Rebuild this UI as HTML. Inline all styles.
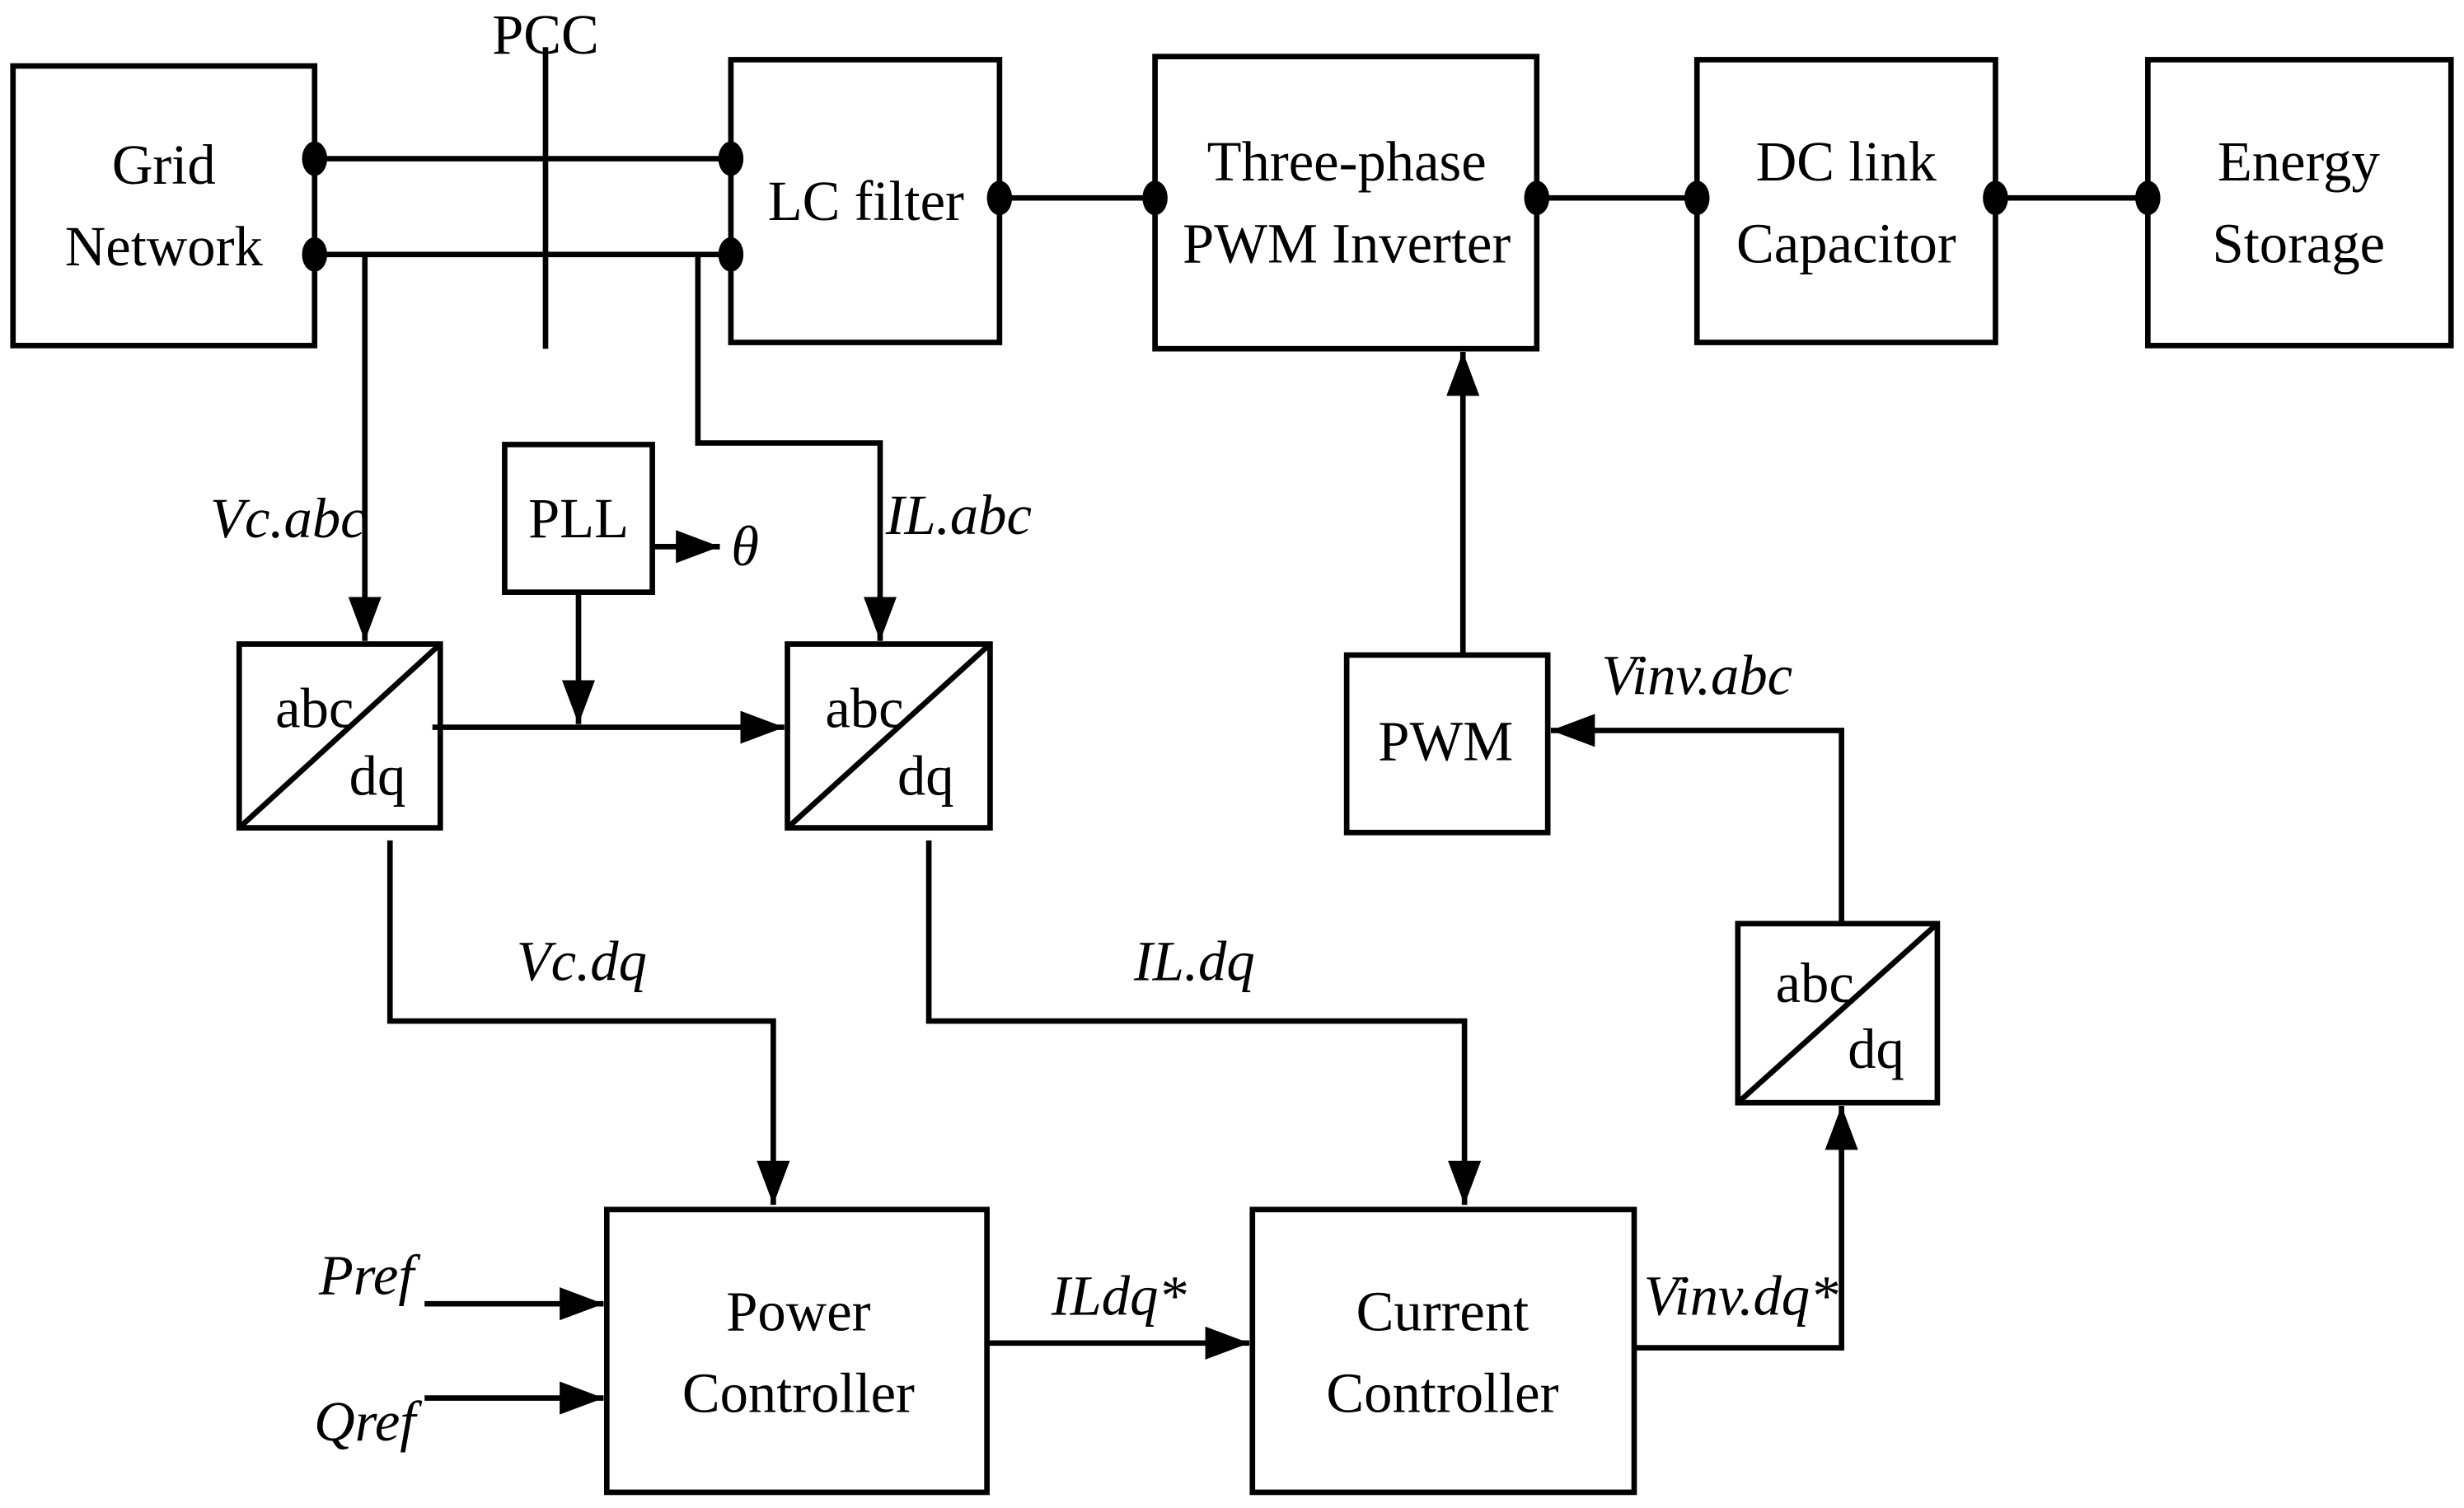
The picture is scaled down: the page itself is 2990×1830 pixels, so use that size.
<!DOCTYPE html>
<html><head><meta charset="utf-8"><style>
html,body{margin:0;padding:0;background:#fff;}
svg{display:block;}
text{font-family:"Liberation Serif",serif;font-size:36px;fill:#000;}
.i{font-style:italic;}
</style></head><body>
<svg width="2990" height="1830" viewBox="0 0 1568 960" xmlns="http://www.w3.org/2000/svg">
<defs>
<marker id="a" markerWidth="8" markerHeight="6" refX="8" refY="3" orient="auto" markerUnits="strokeWidth">
<path d="M0,0 L8,3 L0,6 Z" fill="#000"/></marker>
</defs>
<g fill="none" stroke="#000" stroke-width="3.5">
<rect x="8" y="42" width="192" height="178"/>
<rect x="465" y="38" width="171" height="180"/>
<rect x="735" y="36" width="243" height="186"/>
<rect x="1080" y="38" width="190" height="180"/>
<rect x="1367" y="38" width="193" height="182"/>
<rect x="321" y="283" width="94" height="94"/>
<rect x="152" y="410" width="128" height="117"/>
<line x1="152" y1="527" x2="280" y2="410"/>
<rect x="501" y="410" width="129" height="117"/>
<line x1="501" y1="527" x2="630" y2="410"/>
<rect x="1106" y="588" width="127" height="114"/>
<line x1="1106" y1="702" x2="1233" y2="588"/>
<rect x="857" y="417" width="128" height="113"/>
<rect x="386" y="770" width="242" height="180"/>
<rect x="797" y="770" width="243" height="180"/>
<line x1="200" y1="101" x2="465" y2="101"/>
<line x1="200" y1="162" x2="465" y2="162"/>
<line x1="347" y1="30" x2="347" y2="222"/>
<line x1="636" y1="126" x2="735" y2="126"/>
<line x1="978" y1="126" x2="1080" y2="126"/>
<line x1="1270" y1="126" x2="1367" y2="126"/>
<line x1="232" y1="162" x2="232" y2="408" marker-end="url(#a)"/>
<polyline points="444,162 444,282 560,282 560,408" marker-end="url(#a)"/>
<line x1="415" y1="348" x2="458" y2="348" marker-end="url(#a)"/>
<line x1="368" y1="377" x2="368" y2="461" marker-end="url(#a)"/>
<line x1="275" y1="463" x2="499" y2="463" marker-end="url(#a)"/>
<polyline points="248,535 248,650 492,650 492,767" marker-end="url(#a)"/>
<polyline points="591,535 591,650 932,650 932,767" marker-end="url(#a)"/>
<line x1="270" y1="830" x2="384" y2="830" marker-end="url(#a)"/>
<line x1="270" y1="890" x2="384" y2="890" marker-end="url(#a)"/>
<line x1="628" y1="855" x2="795" y2="855" marker-end="url(#a)"/>
<polyline points="1040,858 1172,858 1172,704" marker-end="url(#a)"/>
<polyline points="1172,588 1172,465 987,465" marker-end="url(#a)"/>
<line x1="931" y1="417" x2="931" y2="224" marker-end="url(#a)"/>
</g>
<g fill="#000">
<ellipse cx="200" cy="101" rx="8" ry="11"/><ellipse cx="200" cy="162" rx="8" ry="11"/>
<ellipse cx="465" cy="101" rx="8" ry="11"/><ellipse cx="465" cy="162" rx="8" ry="11"/>
<ellipse cx="636" cy="126" rx="8" ry="11"/><ellipse cx="735" cy="126" rx="8" ry="11"/>
<ellipse cx="978" cy="126" rx="8" ry="11"/><ellipse cx="1080" cy="126" rx="8" ry="11"/>
<ellipse cx="1270" cy="126" rx="8" ry="11"/><ellipse cx="1367" cy="126" rx="8" ry="11"/>
</g>
<g text-anchor="middle">
<text x="104" y="117">Grid</text><text x="104" y="169">Network</text>
<text x="347" y="34">PCC</text>
<text x="551" y="140">LC filter</text>
<text x="857" y="115">Three-phase</text><text x="857" y="167">PWM Inverter</text>
<text x="1175" y="115">DC link</text><text x="1175" y="167">Capacitor</text>
<text x="1463" y="115">Energy</text><text x="1463" y="167">Storage</text>
<text x="368" y="342">PLL</text>
<text class="i" x="474" y="360">θ</text>
<text class="i" x="183" y="342">Vc.abc</text>
<text class="i" x="610" y="340">IL.abc</text>
<text x="200" y="463">abc</text><text x="240" y="506">dq</text>
<text x="550" y="463">abc</text><text x="589" y="506">dq</text>
<text x="1155" y="638">abc</text><text x="1194" y="680">dq</text>
<text x="920" y="484">PWM</text>
<text class="i" x="1080" y="442">Vinv.abc</text>
<text class="i" x="370" y="624">Vc.dq</text>
<text class="i" x="760" y="624">IL.dq</text>
<text x="508" y="847">Power</text><text x="508" y="899">Controller</text>
<text x="918" y="847">Current</text><text x="918" y="899">Controller</text>
<text class="i" x="233" y="824">Pref</text>
<text class="i" x="232" y="917">Qref</text>
<text class="i" x="712" y="837">ILdq*</text>
<text class="i" x="1108" y="837">Vinv.dq*</text>
</g>
</svg>
</body></html>
